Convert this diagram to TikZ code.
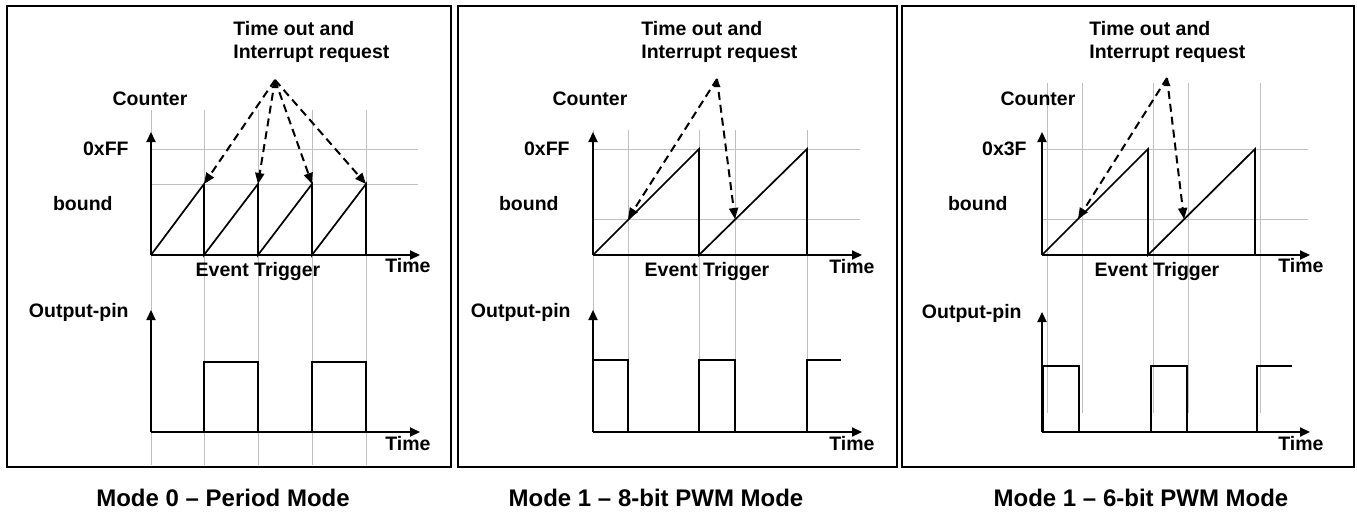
\documentclass[tikz,border=0pt]{standalone}
\usepackage{fontspec}
\setmainfont{Liberation Sans}
\usepackage{tikz}
\usetikzlibrary{positioning,arrows.meta}
\definecolor{colorgrid}  {RGB}{192,192,192}
\definecolor{colorline}  {RGB}{  0,  0,  0}
\definecolor{colortext}  {RGB}{  0,  0,  0}

\begin{document}
\begin{tikzpicture}[
    x=0.5pt, y=-0.5pt,
    panel/.style={draw=colorline,line width=1.2pt},
    gridline/.style={draw=colorgrid,line width=0.5pt},
    axis/.style={draw=colorline,line width=1.1pt,-{Triangle[length=5pt,width=4.5pt]}},
    signal/.style={draw=colorline,line width=0.85pt},
    irq/.style={draw=colorline,line width=1pt,dash pattern=on 4pt off 2.5pt,-{Triangle[length=5.5pt,width=4.5pt]}},
    label/.style={text=colortext,font={\bfseries\fontsize{9.75}{11.5}\selectfont},inner sep=0pt},
    caption/.style={text=colortext,font={\bfseries\fontsize{12}{14}\selectfont},inner sep=0pt}
]
    \useasboundingbox (0,0) rectangle (1357,514);

    % Mode 0 panel
    \draw[panel] (7,6) rectangle (451,467);
    \foreach \x in {151,204,258,312,366}
        \draw[gridline] (\x,110) -- (\x,465);
    \draw[gridline] (151,149) -- (418,149);
    \draw[gridline] (151,184) -- (418,184);
    \coordinate (originA) at (151,255);
    \coordinate (pinA) at (151,432);
    \draw[axis] (originA) -- (151,132);
    \draw[axis] (originA) -- (420,255);
    \draw[signal] (originA) -- (204,184) -- (204,255) -- (258,184) -- (258,255)
        -- (312,184) -- (312,255) -- (366,184) -- (366,255);
    \draw[axis] (pinA) -- (151,310);
    \draw[axis] (pinA) -- (420,432);
    \draw[signal] (204,432) -- (204,362) -- (258,362) -- (258,432);
    \draw[signal] (312,432) -- (312,362) -- (366,362) -- (366,432);

    % Mode 0 interrupts
    \coordinate (irqA) at (275,80);
    \fill[colorline] (irqA) -- (271.5,88) -- (278.5,88) -- cycle;
    \foreach \x in {204,258,312,366}
        \draw[irq] (irqA) -- (\x,184);

    % Mode 0 labels
    \node[label,align=left,anchor=west] (titleA) at (233,42) {Time out and\\Interrupt request};
    \node[label] (counterA) at (150,99) {Counter};
    \node[label,anchor=east] (topA) at (129,149) {0xFF};
    \node[label,anchor=east] (boundA) at (113,204) {bound};
    \node[label] (timeA) at (408,266) {Time};
    \node[label] (eventA) at (258,271) {Event Trigger};
    \node[label,anchor=east] (outA) at (129,312) {Output-pin};
    \node[label] (timeoutA) at (408,444) {Time};
    \node[caption] (captionA) at (223,498) {Mode 0 -- Period Mode};

    % Mode 1 8-bit panel
    \draw[panel] (458,6) rectangle (897,467);
    \foreach \x in {593,628,699,735,807}
        \draw[gridline] (\x,130) -- (\x,432);
    \draw[gridline] (593,149) -- (860,149);
    \draw[gridline] (593,219) -- (860,219);
    \coordinate (originB) at (593,255);
    \coordinate (pinB) at (593,432);
    \draw[axis] (originB) -- (593,132);
    \draw[axis] (originB) -- (862,255);
    \draw[signal] (originB) -- (699,149) -- (699,255) -- (807,149) -- (807,255);
    \draw[axis] (pinB) -- (593,310);
    \draw[axis] (pinB) -- (862,432);
    \draw[signal] (593,432) -- (593,360) -- (628,360) -- (628,432);
    \draw[signal] (699,432) -- (699,360) -- (735,360) -- (735,432);
    \draw[signal] (807,432) -- (807,360) -- (841,360);

    % Mode 1 8-bit interrupts
    \coordinate (irqB) at (717,79);
    \fill[colorline] (irqB) -- (713.5,87) -- (720.5,87) -- cycle;
    \draw[irq] (irqB) -- (628,219);
    \draw[irq] (irqB) -- (735,219);

    % Mode 1 8-bit labels
    \node[label,align=left,anchor=west] (titleB) at (641,42) {Time out and\\Interrupt request};
    \node[label] (counterB) at (590,99) {Counter};
    \node[label,anchor=east] (topB) at (570,149) {0xFF};
    \node[label,anchor=east] (boundB) at (559,204) {bound};
    \node[label] (timeB) at (852,267) {Time};
    \node[label] (eventB) at (707,271) {Event Trigger};
    \node[label,anchor=east] (outB) at (571,312) {Output-pin};
    \node[label] (timeoutB) at (852,444) {Time};
    \node[caption] (captionB) at (656,498) {Mode 1 -- 8-bit PWM Mode};

    % Mode 1 6-bit panel
    \draw[panel] (902,6) rectangle (1354,467);
    \foreach \x in {1047,1082,1153,1188,1260}
        \draw[gridline] (\x,83) -- (\x,413);
    \draw[gridline] (1042,149) -- (1308,149);
    \draw[gridline] (1042,219) -- (1308,219);
    \coordinate (originC) at (1042,255);
    \coordinate (pinC) at (1042,432);
    \draw[axis] (originC) -- (1042,132);
    \draw[axis] (originC) -- (1310,255);
    \draw[signal] (originC) -- (1148,149) -- (1148,255) -- (1255,149) -- (1255,255);
    \draw[axis] (pinC) -- (1042,312);
    \draw[axis] (pinC) -- (1310,432);
    \draw[signal] (1043,432) -- (1043,366) -- (1079,366) -- (1079,432);
    \draw[signal] (1151,432) -- (1151,366) -- (1187,366) -- (1187,432);
    \draw[signal] (1257,432) -- (1257,366) -- (1292,366);

    % Mode 1 6-bit interrupts
    \coordinate (irqC) at (1167,78);
    \fill[colorline] (irqC) -- (1163.5,86) -- (1170.5,86) -- cycle;
    \draw[irq] (irqC) -- (1078,219);
    \draw[irq] (irqC) -- (1184,219);

    % Mode 1 6-bit labels
    \node[label,align=left,anchor=west] (titleC) at (1089,42) {Time out and\\Interrupt request};
    \node[label] (counterC) at (1038,99) {Counter};
    \node[label,anchor=east] (topC) at (1027,149) {0x3F};
    \node[label,anchor=east] (boundC) at (1008,204) {bound};
    \node[label] (timeC) at (1301,266) {Time};
    \node[label] (eventC) at (1157,271) {Event Trigger};
    \node[label,anchor=east] (outC) at (1022,313) {Output-pin};
    \node[label] (timeoutC) at (1301,444) {Time};
    \node[caption] (captionC) at (1141,498) {Mode 1 -- 6-bit PWM Mode};

\end{tikzpicture}
\end{document}
